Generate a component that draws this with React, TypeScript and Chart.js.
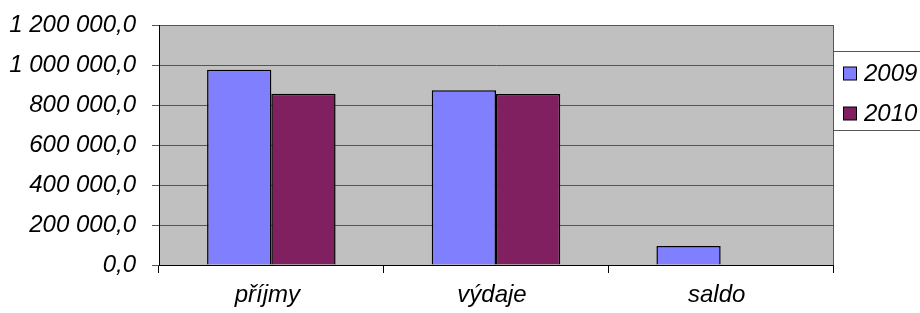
import React, { useEffect, useRef } from "react";
import { Chart, registerables } from "chart.js";

Chart.register(...registerables);

const categories = ["příjmy", "výdaje", "saldo"];
const series2009 = [976000, 874000, 95000];
const series2010 = [856000, 855000, 0];
const seriesLabels = ["2009", "2010"];
const yTicks = [0, 200000, 400000, 600000, 800000, 1000000, 1200000];

const FONT = "'Liberation Sans', Arial, sans-serif";
const FONT_SIZE = 24;

function formatCz(v: number): string {
  const s = Math.round(v).toString().replace(/\B(?=(\d{3})+(?!\d))/g, " ");
  return s + ",0";
}

const bgPlugin = {
  id: "plotBg",
  beforeDraw(chart: any) {
    const { ctx, chartArea } = chart;
    ctx.save();
    ctx.fillStyle = "#c0c0c0";
    ctx.fillRect(chartArea.left, chartArea.top, chartArea.right - chartArea.left, chartArea.bottom - chartArea.top);
    ctx.restore();
  },
  afterDatasetsDraw(chart: any) {
    const { ctx, chartArea } = chart;
    ctx.save();
    ctx.strokeStyle = "#555555";
    ctx.lineWidth = 1;
    ctx.beginPath();
    ctx.moveTo(chartArea.right + 0.5, chartArea.top);
    ctx.lineTo(chartArea.right + 0.5, chartArea.bottom);
    ctx.stroke();
    ctx.restore();
  },
};

const legendPlugin = {
  id: "customLegend",
  afterDraw(chart: any) {
    const { ctx, chartArea } = chart;
    const x0 = chartArea.right + 0.5;
    const y0 = 51.5;
    const w = 120;
    const h = 79;
    ctx.save();
    ctx.fillStyle = "#ffffff";
    ctx.fillRect(x0, y0, w, h);
    ctx.strokeStyle = "#555555";
    ctx.lineWidth = 1;
    ctx.strokeRect(x0, y0, w, h);
    ctx.font = "italic " + FONT_SIZE + "px " + FONT;
    ctx.textBaseline = "middle";
    ctx.textAlign = "left";
    chart.data.datasets.forEach((ds: any, i: number) => {
      const cy = 73.5 + i * 40;
      ctx.fillStyle = ds.backgroundColor;
      ctx.fillRect(843.5, cy - 6.5, 13, 13);
      ctx.strokeStyle = "#000000";
      ctx.strokeRect(843.5, cy - 6.5, 13, 13);
      ctx.fillStyle = "#000000";
      ctx.fillText(ds.label, 864, cy + 1);
    });
    ctx.restore();
  },
};

export default function App() {
  const ref = useRef<HTMLCanvasElement | null>(null);

  useEffect(() => {
    document.body.style.margin = "0";
    if (!ref.current) return;
    const chart = new Chart(ref.current, {
      type: "bar",
      data: {
        labels: categories,
        datasets: [
          {
            label: seriesLabels[0],
            data: series2009,
            backgroundColor: "#8080ff",
            borderColor: "#000000",
            borderWidth: 1.5,
            categoryPercentage: 0.572,
            barPercentage: 1,
          },
          {
            label: seriesLabels[1],
            data: series2010,
            backgroundColor: "#802060",
            borderColor: "#000000",
            borderWidth: 1.5,
            categoryPercentage: 0.572,
            barPercentage: 1,
          },
        ],
      },
      options: {
        animation: false,
        responsive: false,
        maintainAspectRatio: false,
        layout: { padding: { left: 0, right: 87, top: 25, bottom: 0 } },
        plugins: {
          legend: { display: false },
          tooltip: { enabled: false },
        },
        scales: {
          x: {
            grid: {
              display: true,
              drawOnChartArea: false,
              drawTicks: true,
              tickLength: 8,
              color: "#000000",
              offset: true,
            },
            border: { display: true, color: "#000000", width: 1 },
            ticks: {
              color: "#000000",
              font: { family: FONT, size: FONT_SIZE, style: "italic" },
              padding: 8,
              labelOffset: -4,
            },
            afterFit(scale: any) {
              scale.height = 48;
              scale.paddingLeft = 0;
              scale.paddingRight = 0;
            },
          },
          y: {
            min: 0,
            max: 1200000,
            afterBuildTicks(scale: any) {
              scale.ticks = yTicks.map((v) => ({ value: v }));
            },
            grid: {
              color: "#555555",
              lineWidth: 1,
              tickLength: 7,
              drawTicks: true,
            },
            border: { display: true, color: "#000000", width: 1 },
            ticks: {
              color: "#000000",
              font: { family: FONT, size: FONT_SIZE, style: "italic" },
              padding: 16,
              callback: (v: any) => formatCz(Number(v)),
            },
            afterFit(scale: any) {
              scale.width = 159;
              scale.paddingTop = 0;
              scale.paddingBottom = 0;
            },
          },
        },
      },
      plugins: [bgPlugin, legendPlugin],
    });
    return () => chart.destroy();
  }, []);

  return (
    <div style={{ width: 920, height: 313 }}>
      <canvas ref={ref} width={920} height={313} style={{ display: "block" }} />
    </div>
  );
}
